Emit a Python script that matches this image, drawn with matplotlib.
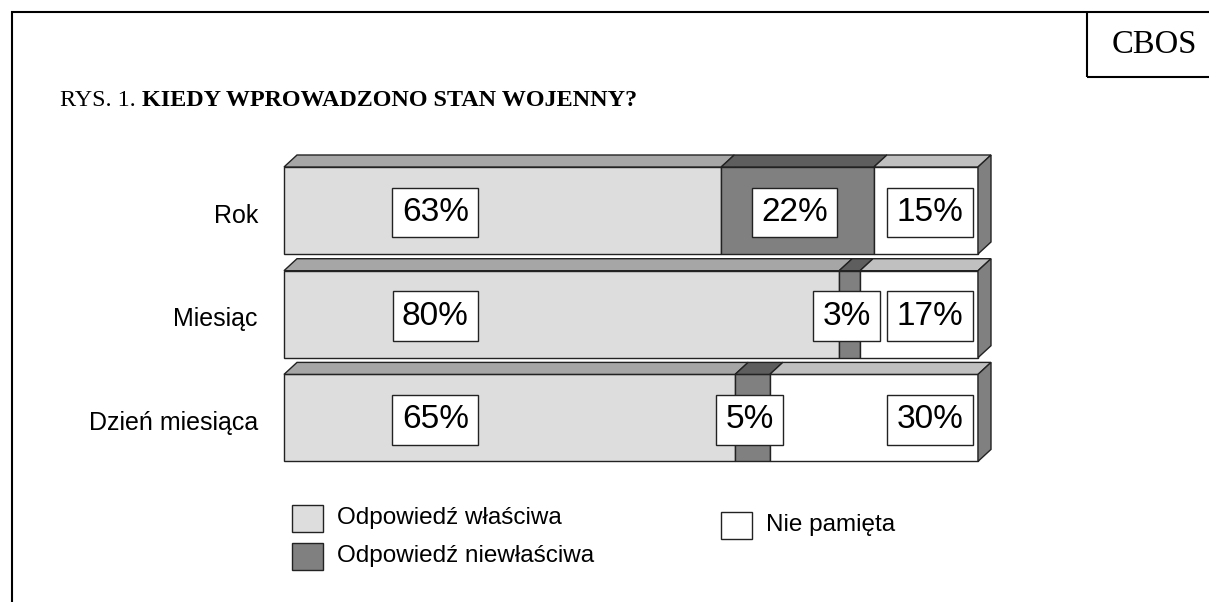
import matplotlib
matplotlib.use("Agg")
import matplotlib.pyplot as plt
from matplotlib.patches import Polygon, Rectangle
import numpy as np

# ---- data ----
categories = ["Rok", "Miesiąc", "Dzień miesiąca"]
series_names = ["Odpowiedź właściwa", "Odpowiedź niewłaściwa", "Nie pamięta"]
correct = [63, 80, 65]
wrong = [22, 3, 5]
dont_remember = [15, 17, 30]
title_prefix = "RYS. 1."
title_main = "KIEDY WPROWADZONO STAN WOJENNY?"
source_label = "CBOS"

# ---- styles ----
front_colors = ["#DDDDDD", "#808080", "#FFFFFF"]
top_colors = ["#A6A6A6", "#5E5E5E", "#C0C0C0"]
side_color = "#808080"
edge = "#222222"
sans = "Liberation Sans"
serif = "Liberation Serif"

W, H = 1209, 602
fig = plt.figure(figsize=(W / 100, H / 100), dpi=100)

# decoration axes in pixel coordinates
axd = fig.add_axes([0, 0, 1, 1])
axd.set_xlim(0, W)
axd.set_ylim(H, 0)
axd.axis("off")

# chart axes: x in percent, y in category units
px_per_pct = (978 - 284) / 100.0
px_per_cat = 103.7
x0_px, y0_px = 284, 210.5
ax = fig.add_axes([0, 0, 1, 1])
ax.patch.set_visible(False)
ax.set_xlim(-x0_px / px_per_pct, (W - x0_px) / px_per_pct)
ax.set_ylim((H - y0_px) / px_per_cat, -y0_px / px_per_cat)
ax.axis("off")

dx = 13 / px_per_pct
dy = 12 / px_per_cat
bar_h = 87 / px_per_cat

series = [correct, wrong, dont_remember]
ypos = np.arange(len(categories))
lefts = np.zeros(len(categories))
for k, vals in enumerate(series):
    vals = np.array(vals, dtype=float)
    ax.barh(ypos, vals, left=lefts, height=bar_h, color=front_colors[k],
            edgecolor=edge, linewidth=1.0, zorder=2)
    for i in range(len(categories)):
        l, r = lefts[i], lefts[i] + vals[i]
        top = ypos[i] - bar_h / 2
        ax.add_patch(Polygon([(l, top), (l + dx, top - dy), (r + dx, top - dy), (r, top)],
                             closed=True, facecolor=top_colors[k], edgecolor=edge,
                             linewidth=1.0, zorder=2))
    lefts = lefts + vals

# right side faces
for i in range(len(categories)):
    R = lefts[i]
    top = ypos[i] - bar_h / 2
    bot = ypos[i] + bar_h / 2
    ax.add_patch(Polygon([(R, top), (R + dx, top - dy), (R + dx, bot - dy), (R, bot)],
                         closed=True, facecolor=side_color, edgecolor=edge,
                         linewidth=1.0, zorder=2))

# value labels
first_label_x = 21.8
last_label_x = 93.1
box = dict(boxstyle="square,pad=0.28", facecolor="white", edgecolor=edge, linewidth=1.0)
for i in range(len(categories)):
    starts = [0, correct[i], correct[i] + wrong[i]]
    for k, vals in enumerate(series):
        v = vals[i]
        if k == 0:
            xl = first_label_x
        elif k == len(series) - 1:
            xl = last_label_x
        else:
            xl = starts[k] + v / 2 - 0.4
        ax.text(xl, ypos[i] + 0.02, f"{v}%", ha="center", va="center", fontsize=24,
                family=sans, bbox=box, zorder=5)

# category labels
for i, c in enumerate(categories):
    ax.text(-3.75, ypos[i] + 0.05, c, ha="right", va="center", fontsize=18, family=sans)

# frame
lw = 1.5
axd.plot([12, 12], [11, H], color="black", lw=lw, solid_capstyle="butt")
axd.plot([11, W], [12, 12], color="black", lw=lw, solid_capstyle="butt")
axd.plot([1087, 1087], [12, 77], color="black", lw=lw, solid_capstyle="butt")
axd.plot([1087, W], [77, 77], color="black", lw=lw, solid_capstyle="butt")
axd.text(1154, 45, source_label, ha="center", va="center", fontsize=23.5, family=serif)

# title
t1 = axd.text(60, 106, title_prefix, ha="left", va="baseline", fontsize=17.4, family=serif)
axd.annotate(" " + title_main, xy=(1, 0), xycoords=t1, ha="left", va="bottom",
             fontsize=17.4, family=serif, fontweight="bold")

# legend (manual layout)
leg_items = [(292, 505, 337, 518), (292, 543, 337, 556), (721, 512, 766, 525)]
for k, (sx, sy, tx, ty) in enumerate(leg_items):
    axd.add_patch(Rectangle((sx, sy), 31, 27, facecolor=front_colors[k], edgecolor=edge,
                            linewidth=1.0))
    axd.text(tx, ty, series_names[k], ha="left", va="center", fontsize=17.5, family=sans)

fig.savefig("out.png", dpi=100)
